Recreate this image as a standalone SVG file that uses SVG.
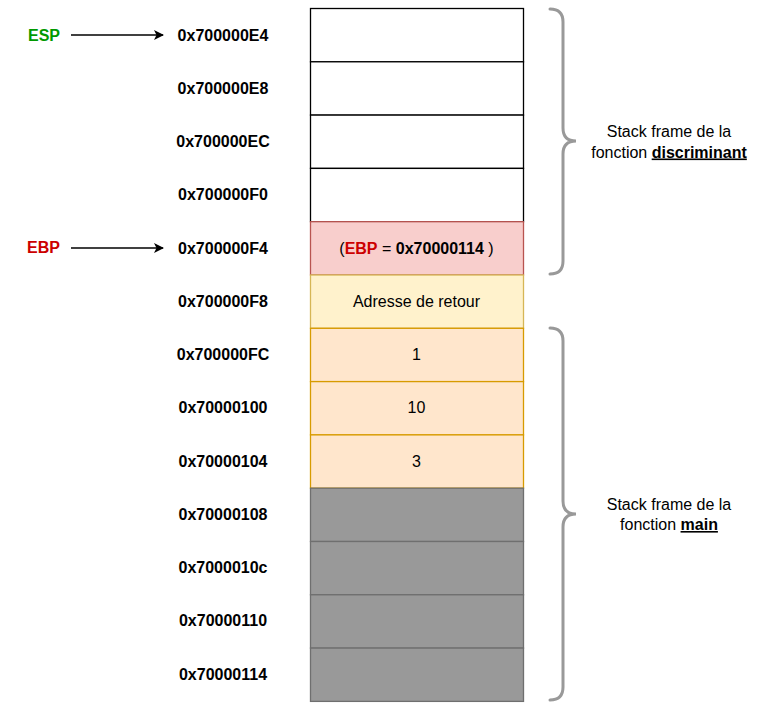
<svg xmlns="http://www.w3.org/2000/svg" width="769" height="714" viewBox="0 0 769 714">
  <style>
    text { font-family: "Liberation Sans", Arial, sans-serif; font-size: 16px; fill: #000; }
    .addr { font-weight: bold; text-anchor: middle; }
    .val { text-anchor: middle; }
    .note { text-anchor: middle; }
    .b { font-weight: bold; }
    .cell-empty { fill: #ffffff; stroke: #000000; stroke-width: 1.3; }
    .cell-ebp { fill: #f8cecc; stroke: #b85450; stroke-width: 1.3; }
    .cell-ret { fill: #fff2cc; stroke: #d6b656; stroke-width: 1.3; }
    .cell-arg { fill: #ffe6cc; stroke: #d79b00; stroke-width: 1.3; }
    .cell-old { fill: #999999; stroke: #6f6f6f; stroke-width: 1.3; }
    .brace { fill: none; stroke: #999999; stroke-width: 3; stroke-linecap: round; }
    .ptr { stroke: #000; stroke-width: 1.3; fill: none; }
  </style>
  <defs>
    <marker id="arrow" viewBox="0 0 10 10" refX="9" refY="5" markerWidth="10" markerHeight="10" markerUnits="userSpaceOnUse" orient="auto">
      <path d="M0,0 L10,5 L0,10 L2.5,5 Z" fill="#000"/>
    </marker>
  </defs>

  <!-- stack cells, top to bottom -->
  <g id="cell-E4"><rect class="cell-empty" x="310.5" y="8.5" width="213" height="53.3"/></g>
  <g id="cell-E8"><rect class="cell-empty" x="310.5" y="61.8" width="213" height="53.3"/></g>
  <g id="cell-EC"><rect class="cell-empty" x="310.5" y="115.1" width="213" height="53.3"/></g>
  <g id="cell-F0"><rect class="cell-empty" x="310.5" y="168.4" width="213" height="53.3"/></g>
  <g id="cell-F4">
    <rect class="cell-ebp" x="310.5" y="221.7" width="213" height="53.3"/>
    <text class="val" x="416.5" y="253.5">(<tspan class="b" fill="#cc0000">EBP</tspan> = <tspan class="b">0x70000114</tspan> )</text>
  </g>
  <g id="cell-F8">
    <rect class="cell-ret" x="310.5" y="275" width="213" height="53.3"/>
    <text class="val" x="416.5" y="307">Adresse de retour</text>
  </g>
  <g id="cell-FC">
    <rect class="cell-arg" x="310.5" y="328.3" width="213" height="53.3"/>
    <text class="val" x="416.5" y="360">1</text>
  </g>
  <g id="cell-100">
    <rect class="cell-arg" x="310.5" y="381.6" width="213" height="53.3"/>
    <text class="val" x="416.5" y="413">10</text>
  </g>
  <g id="cell-104">
    <rect class="cell-arg" x="310.5" y="434.9" width="213" height="53.3"/>
    <text class="val" x="416.5" y="466.5">3</text>
  </g>
  <g id="cell-108"><rect class="cell-old" x="310.5" y="488.2" width="213" height="53.3"/></g>
  <g id="cell-10c"><rect class="cell-old" x="310.5" y="541.5" width="213" height="53.3"/></g>
  <g id="cell-110"><rect class="cell-old" x="310.5" y="594.8" width="213" height="53.3"/></g>
  <g id="cell-114"><rect class="cell-old" x="310.5" y="648.1" width="213" height="53.3"/></g>

  <!-- address labels -->
  <g id="addresses">
    <text class="addr" x="223" y="40.5">0x700000E4</text>
    <text class="addr" x="223" y="93.5">0x700000E8</text>
    <text class="addr" x="223" y="147">0x700000EC</text>
    <text class="addr" x="223" y="200">0x700000F0</text>
    <text class="addr" x="223" y="253.5">0x700000F4</text>
    <text class="addr" x="223" y="306.5">0x700000F8</text>
    <text class="addr" x="223" y="360">0x700000FC</text>
    <text class="addr" x="223" y="413">0x70000100</text>
    <text class="addr" x="223" y="466.5">0x70000104</text>
    <text class="addr" x="223" y="519.5">0x70000108</text>
    <text class="addr" x="223" y="573">0x7000010c</text>
    <text class="addr" x="223" y="626">0x70000110</text>
    <text class="addr" x="223" y="679.5">0x70000114</text>
  </g>

  <!-- register pointers -->
  <g id="esp"><text class="b" x="28" y="40.5" fill="#009900" style="fill:#009900">ESP</text></g>
  <g id="ebp"><text class="b" x="27" y="253" fill="#cc0000" style="fill:#cc0000">EBP</text></g>

  <g id="connectors">
    <line class="ptr" x1="71" y1="35" x2="163" y2="35" marker-end="url(#arrow)"/>
    <line class="ptr" x1="71" y1="248" x2="163" y2="248" marker-end="url(#arrow)"/>
  </g>

  <!-- frame braces -->
  <g id="frame-discriminant">
    <path class="brace" d="M550,9 Q563,9 563,22 L563,128 Q563,141 576,141 Q563,141 563,154 L563,261 Q563,274 550,274"/>
    <text class="note" x="669" y="137">Stack frame de la</text>
    <text class="note" x="669" y="157.5">fonction <tspan class="b" text-decoration="underline">discriminant</tspan></text>
  </g>
  <g id="frame-main">
    <path class="brace" d="M550,328 Q563,328 563,341 L563,501 Q563,514 576,514 Q563,514 563,527 L563,687 Q563,700 550,700"/>
    <text class="note" x="669" y="510">Stack frame de la</text>
    <text class="note" x="669" y="530">fonction <tspan class="b" text-decoration="underline">main</tspan></text>
  </g>
</svg>
